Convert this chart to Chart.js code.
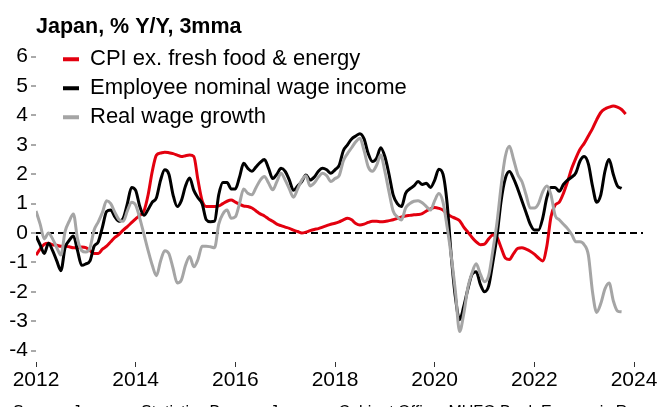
<!DOCTYPE html>
<html>
<head>
<meta charset="utf-8">
<script src="https://cdn.jsdelivr.net/npm/chart.js@4.4.1/dist/chart.umd.min.js"></script>
<style>
    html, body { margin: 0; padding: 0; background: #fff; }
    #wrap { width: 659px; height: 407px; position: relative; }
</style>
</head>
<body>
<div id="wrap"><canvas id="chart"></canvas></div>
<script>
// Monthly series, Jan 2012 onwards (% Y/Y, 3mma)
const startYear = 2012;

const cpiCore = [
    -0.75, -0.55, -0.38, -0.35, -0.4, -0.42, -0.45, -0.45, -0.47, -0.5, -0.5, -0.48,
    -0.5, -0.6, -0.7, -0.7, -0.55, -0.45, -0.3, -0.15, -0.05, 0.1, 0.22, 0.35,
    0.48, 0.6, 0.75, 1.3, 2.1, 2.65, 2.72, 2.75, 2.73, 2.7, 2.65, 2.6,
    2.63, 2.65, 2.6, 1.8, 1.1, 0.9, 0.9, 0.9, 0.92, 1.0, 1.08, 1.12,
    1.05, 0.98, 0.92, 0.9, 0.85, 0.75, 0.65, 0.58, 0.48, 0.4, 0.3, 0.25,
    0.2, 0.16, 0.1, 0.05, 0.0, 0.03, 0.08, 0.12, 0.15, 0.2, 0.25, 0.3,
    0.33, 0.38, 0.45, 0.5, 0.45, 0.32, 0.27, 0.3, 0.36, 0.4, 0.4, 0.38,
    0.39, 0.42, 0.45, 0.5, 0.55, 0.58, 0.6, 0.62, 0.63, 0.66, 0.75, 0.82,
    0.87, 0.84, 0.78, 0.65, 0.56, 0.5, 0.42, 0.2, 0.03, -0.15, -0.3, -0.4,
    -0.38, -0.2, -0.07, -0.15, -0.5, -0.85, -0.9, -0.7, -0.52, -0.5, -0.55, -0.62,
    -0.72, -0.85, -0.95, -0.45, 0.55, 0.95, 1.05, 1.35, 1.75, 2.2, 2.55, 2.85,
    3.05, 3.3, 3.55, 3.85, 4.1, 4.22, 4.28, 4.32, 4.28, 4.2, 4.05
];

const nominalWage = [
    -0.1, -0.4, -0.7, -0.35, -0.6, -0.95, -1.28, -0.5, -0.25, -0.1, -0.6, -1.1,
    -1.05, -0.95, -0.45, -0.3, 0.2, 0.73, 0.78, 0.55, 0.4, 0.5, 1.0, 1.55,
    1.45, 0.9, 0.6, 0.8, 1.05, 1.2, 1.8, 2.15, 2.0, 1.3, 0.9, 1.1,
    1.6, 1.87, 1.45, 1.2, 1.0, 0.45, 0.38, 0.4, 1.3, 1.72, 1.72, 1.5,
    1.5, 1.9, 2.37, 2.2, 2.1, 2.25, 2.4, 2.5, 2.2, 1.85, 2.0, 2.2,
    2.1, 1.8, 1.45, 1.6, 1.75, 1.97, 1.8, 1.9, 2.1, 2.2, 2.15, 2.03,
    2.15, 2.3, 2.8, 3.0, 3.2, 3.3, 3.38, 3.2, 2.7, 2.43, 2.54, 2.9,
    2.6, 2.0, 1.3, 1.0, 0.9, 1.35, 1.5, 1.6, 1.75, 1.65, 1.69, 1.55,
    1.8, 2.17, 2.0, 1.0, -0.8, -2.2, -2.95, -2.5, -1.9, -1.4, -1.32, -1.75,
    -2.0, -1.8, -1.0, -0.1, 1.1, 1.85, 2.09, 1.85, 1.5, 1.1, 0.7, 0.3,
    0.1, 0.1, 0.5, 1.2, 1.55, 1.55, 1.42, 1.65, 1.8, 1.9, 2.05, 2.45,
    2.6, 2.35, 1.6, 1.05, 1.3, 2.1, 2.5, 2.0, 1.6, 1.52
];

const realWage = [
    0.75, 0.3, -0.2, 0.0, -0.2, -0.5, -0.75, 0.05, 0.4, 0.65, -0.2, -0.6,
    -0.65, -0.5, 0.1, 0.38, 0.7, 1.1, 1.0, 0.7, 0.45, 0.4, 0.75, 1.05,
    0.95, 0.5, -0.05, -0.6, -1.1, -1.45, -0.95, -0.6, -0.7, -1.2, -1.7, -1.6,
    -1.1, -0.8, -1.15, -0.9, -0.45, -0.45, -0.47, -0.5, 0.3, 0.65, 0.78, 0.5,
    0.55, 1.0, 1.5, 1.35, 1.3, 1.55, 1.8, 1.92, 1.7, 1.47, 1.75, 2.03,
    1.8, 1.5, 1.22, 1.5, 1.8, 1.95, 1.6, 1.7, 1.9, 2.03, 1.95, 1.75,
    1.85, 1.95, 2.45, 2.7, 2.9, 3.1, 3.22, 2.8, 2.25, 2.1, 2.3, 2.65,
    2.1, 1.4, 0.75, 0.55, 0.44, 0.85, 1.0, 1.08, 1.1, 1.03, 0.9, 0.78,
    1.1, 1.34, 1.05, 0.2, -0.8, -2.0, -3.35, -2.75, -1.85, -1.35, -1.05, -1.4,
    -1.66, -1.45, -0.6, 0.35, 1.6, 2.6, 2.95, 2.5, 2.0, 1.75, 1.3, 0.85,
    0.85, 1.0, 1.4, 1.6, 1.3, 0.6, 0.45, 0.3, 0.15, -0.05, -0.3, -0.3,
    -0.4, -0.75, -2.0, -2.7, -2.4, -1.9, -1.7, -2.3, -2.65, -2.68
];

const seriesNames = ['CPI ex. fresh food & energy', 'Employee nominal wage income', 'Real wage growth'];
const seriesColors = ['#e3000f', '#000000', '#a5a5a5'];
const xTicks = [2012, 2014, 2016, 2018, 2020, 2022, 2024];
const yTicks = [-4, -3, -2, -1, 0, 1, 2, 3, 4, 5, 6];

const FONT = "'Liberation Sans', Arial, sans-serif";

function toPoints(values) {
    return values.map((v, i) => ({ x: startYear + i / 12, y: v }));
}

// puts the legend in the top-left corner of the plot
const legendNudge = {
    id: 'legendNudge',
    afterLayout(chart) {
        const legend = chart.legend;
        const h = legend.bottom - legend.top;
        legend.left = chart.chartArea.left + 20;
        legend.top = chart.chartArea.top - 5.7;
        legend.bottom = legend.top + h;
    }
};

// source line, mostly cut off by the bottom edge
const sourceLine = {
    id: 'sourceLine',
    afterDraw(chart) {
        const ctx = chart.ctx;
        ctx.save();
        ctx.font = '16px ' + FONT;
        ctx.fillStyle = '#000';
        ctx.textBaseline = 'alphabetic';
        ctx.fillText('Source: Japan \u2014 Statistics Bureau, Japan \u2014 Cabinet Office, MUFG Bank Economic Research', 13, 416.5);
        ctx.restore();
    }
};

const datasets = [cpiCore, nominalWage, realWage].map((vals, i) => ({
    label: seriesNames[i],
    data: toPoints(vals),
    borderColor: seriesColors[i],
    backgroundColor: seriesColors[i],
    borderWidth: 3,
    pointRadius: 0,
    cubicInterpolationMode: 'monotone',
    order: 2 - i
}));

new Chart(document.getElementById('chart'), {
    type: 'line',
    data: { datasets: datasets },
    options: {
        responsive: true,
        maintainAspectRatio: false,
        animation: false,
        layout: { padding: { left: 0, right: 16, top: 0, bottom: 0 } },
        plugins: {
            tooltip: { enabled: false },
            title: {
                display: true,
                text: 'Japan, % Y/Y, 3mma',
                align: 'start',
                fullSize: false,
                color: '#000',
                font: { family: FONT, size: 21.5, weight: 'bold' },
                padding: { top: 14, bottom: 7.2 }
            },
            legend: {
                position: 'chartArea',
                align: 'start',
                labels: {
                    color: '#000',
                    font: { family: FONT, size: 22 },
                    boxWidth: 16,
                    boxHeight: 4,
                    padding: 7,
                    generateLabels: chart => chart.data.datasets.map((ds, i) => ({
                        text: ds.label,
                        fillStyle: ds.borderColor,
                        strokeStyle: ds.borderColor,
                        lineWidth: 0,
                        fontColor: '#000',
                        hidden: false,
                        datasetIndex: i
                    }))
                }
            }
        },
        scales: {
            x: {
                type: 'linear',
                min: 2012,
                max: 2024.18,
                afterFit: scale => { scale.height = 45; },
                afterBuildTicks: scale => { scale.ticks = xTicks.map(v => ({ value: v })); },
                ticks: {
                    color: '#000',
                    font: { family: FONT, size: 21 },
                    padding: 1,
                    maxRotation: 0,
                    callback: v => String(v)
                },
                grid: {
                    drawOnChartArea: false,
                    tickLength: 5,
                    tickColor: '#333',
                    tickWidth: 1
                },
                border: { display: false }
            },
            y: {
                min: -4.388,
                max: 6.327,
                afterFit: scale => { scale.width = 36; },
                afterBuildTicks: scale => { scale.ticks = yTicks.map(v => ({ value: v })); },
                ticks: {
                    color: '#000',
                    font: { family: FONT, size: 21 },
                    padding: 3,
                    callback: v => String(v)
                },
                grid: {
                    drawOnChartArea: true,
                    color: c => (c.tick && c.tick.value === 0) ? '#000' : 'rgba(0,0,0,0)',
                    lineWidth: c => (c.tick && c.tick.value === 0) ? 2 : 0,
                    tickLength: 5,
                    tickColor: '#555',
                    tickWidth: 1
                },
                border: { display: false, dash: [7, 4] }
            }
        }
    },
    plugins: [legendNudge, sourceLine]
});
</script>
</body>
</html>
